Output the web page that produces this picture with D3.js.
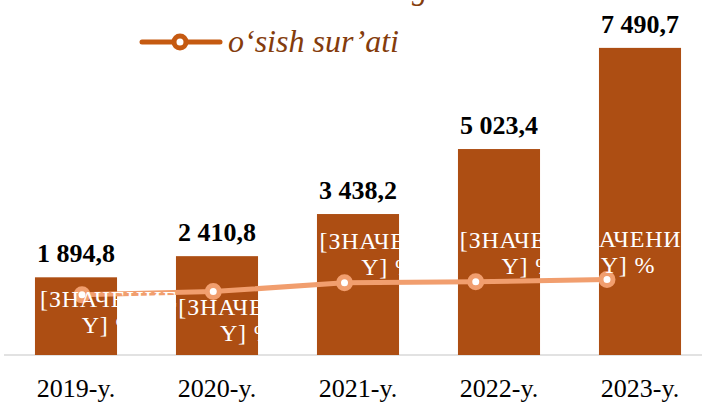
<!DOCTYPE html>
<html>
<head>
<meta charset="utf-8">
<script src="https://cdn.jsdelivr.net/npm/d3@7"></script>
<style>
  body { margin: 0; background: #fff; }
  text { font-family: "Liberation Serif", "Times New Roman", serif; }
</style>
</head>
<body>
<div id="chart"></div>
<script>
// chart data
let years = ["2019-y.", "2020-y.", "2021-y.", "2022-y.", "2023-y."];
let volume = [1894.8, 2410.8, 3438.2, 5023.4, 7490.7];
let growth = [5.5, 5.8, 6.6, 6.7, 6.9];
let volumeLabels = ["1 894,8", "2 410,8", "3 438,2", "5 023,4", "7 490,7"];
let growthLabel = ["[ЗНАЧЕНИЕ", "Y] %"];
let legendName = "o‘sish sur’ati";

// label placement (layout only)
let labelDx = [27, 34, 44, 53, 21];
let labelDy = [12, 23, -34, -34, -33];

let svgWidth = 702;
let svgHeight = 402;

let svg = d3.select("#chart")
  .append("svg")
  .attr("width", svgWidth)
  .attr("height", svgHeight);

// scales
let xBand = d3.scaleBand()
  .domain(years)
  .range([5.5, 710.5])
  .paddingInner(0.418)
  .paddingOuter(0.209);

let xLine = d3.scalePoint()
  .domain(years)
  .range([82, 607]);

let yScale = d3.scaleLinear()
  .domain([0, 8000])
  .range([355, 27]);

let y2Scale = d3.scaleLinear()
  .domain([0, 30])
  .range([355, 27]);

// baseline axis
let xAxis = svg.append("g")
  .attr("transform", `translate(0,${yScale(0)})`)
  .call(d3.axisBottom(xBand).tickSize(0).tickPadding(24));

xAxis.select(".domain").remove();
xAxis.append("line")
  .attr("x1", 4)
  .attr("x2", svgWidth)
  .attr("stroke", "#d9d9d9")
  .attr("stroke-width", 1.5);

xAxis.selectAll(".tick text")
  .attr("font-family", "Liberation Serif")
  .attr("font-size", 26)
  .attr("fill", "#000");

// bars
svg.selectAll("rect.bar")
  .data(volume)
  .enter()
  .append("rect")
  .attr("class", "bar")
  .attr("x", (d, i) => xBand(years[i]))
  .attr("y", d => yScale(d))
  .attr("width", xBand.bandwidth())
  .attr("height", d => yScale(0) - yScale(d))
  .attr("fill", "#ad4e13");

// bar value labels
svg.selectAll("text.vlabel")
  .data(volume)
  .enter()
  .append("text")
  .attr("class", "vlabel")
  .attr("x", (d, i) => xBand(years[i]) + xBand.bandwidth() / 2)
  .attr("y", d => yScale(d) - 15)
  .attr("text-anchor", "middle")
  .attr("font-size", 26)
  .attr("font-weight", "bold")
  .attr("fill", "#000")
  .text((d, i) => volumeLabels[i]);

// growth line
let line = d3.line()
  .x((d, i) => xLine(years[i]))
  .y(d => y2Scale(d));

svg.append("path")
  .datum(growth)
  .attr("d", line)
  .attr("fill", "none")
  .attr("stroke", "#f19e6e")
  .attr("stroke-width", 5)
  .attr("stroke-linecap", "round");

svg.selectAll("circle.pt")
  .data(growth)
  .enter()
  .append("circle")
  .attr("class", "pt")
  .attr("cx", (d, i) => xLine(years[i]))
  .attr("cy", d => y2Scale(d))
  .attr("r", 6)
  .attr("fill", "#fff")
  .attr("stroke", "#f19e6e")
  .attr("stroke-width", 5);

// growth labels (white placeholder text)
let glabels = svg.selectAll("text.glabel")
  .data(growth)
  .enter()
  .append("text")
  .attr("class", "glabel")
  .attr("text-anchor", "middle")
  .attr("font-size", 24)
  .attr("letter-spacing", 0.8)
  .attr("fill", "#fff")
  .attr("transform", (d, i) => `translate(${xLine(years[i]) + labelDx[i]},${y2Scale(d) + labelDy[i]})`);

glabels.append("tspan")
  .attr("x", 0)
  .attr("y", 0)
  .text(growthLabel[0]);
glabels.append("tspan")
  .attr("x", 0)
  .attr("y", 26)
  .text(growthLabel[1]);

// legend
let legend = svg.append("g")
  .attr("transform", "translate(140,42)");

legend.append("line")
  .attr("x1", 2)
  .attr("x2", 80)
  .attr("stroke", "#c55a11")
  .attr("stroke-width", 5)
  .attr("stroke-linecap", "round");

legend.append("circle")
  .attr("cx", 40)
  .attr("r", 6)
  .attr("fill", "#fff")
  .attr("stroke", "#c55a11")
  .attr("stroke-width", 5);

legend.append("text")
  .attr("x", 88)
  .attr("y", 10)
  .attr("font-size", 32)
  .attr("font-style", "italic")
  .attr("fill", "#843c0c")
  .text(legendName);

// clipped upper legend entry (only descender shows)
svg.append("text")
  .attr("x", 412)
  .attr("y", -1)
  .attr("font-size", 31)
  .attr("font-style", "italic")
  .attr("fill", "#843c0c")
  .text("g");
</script>
</body>
</html>
